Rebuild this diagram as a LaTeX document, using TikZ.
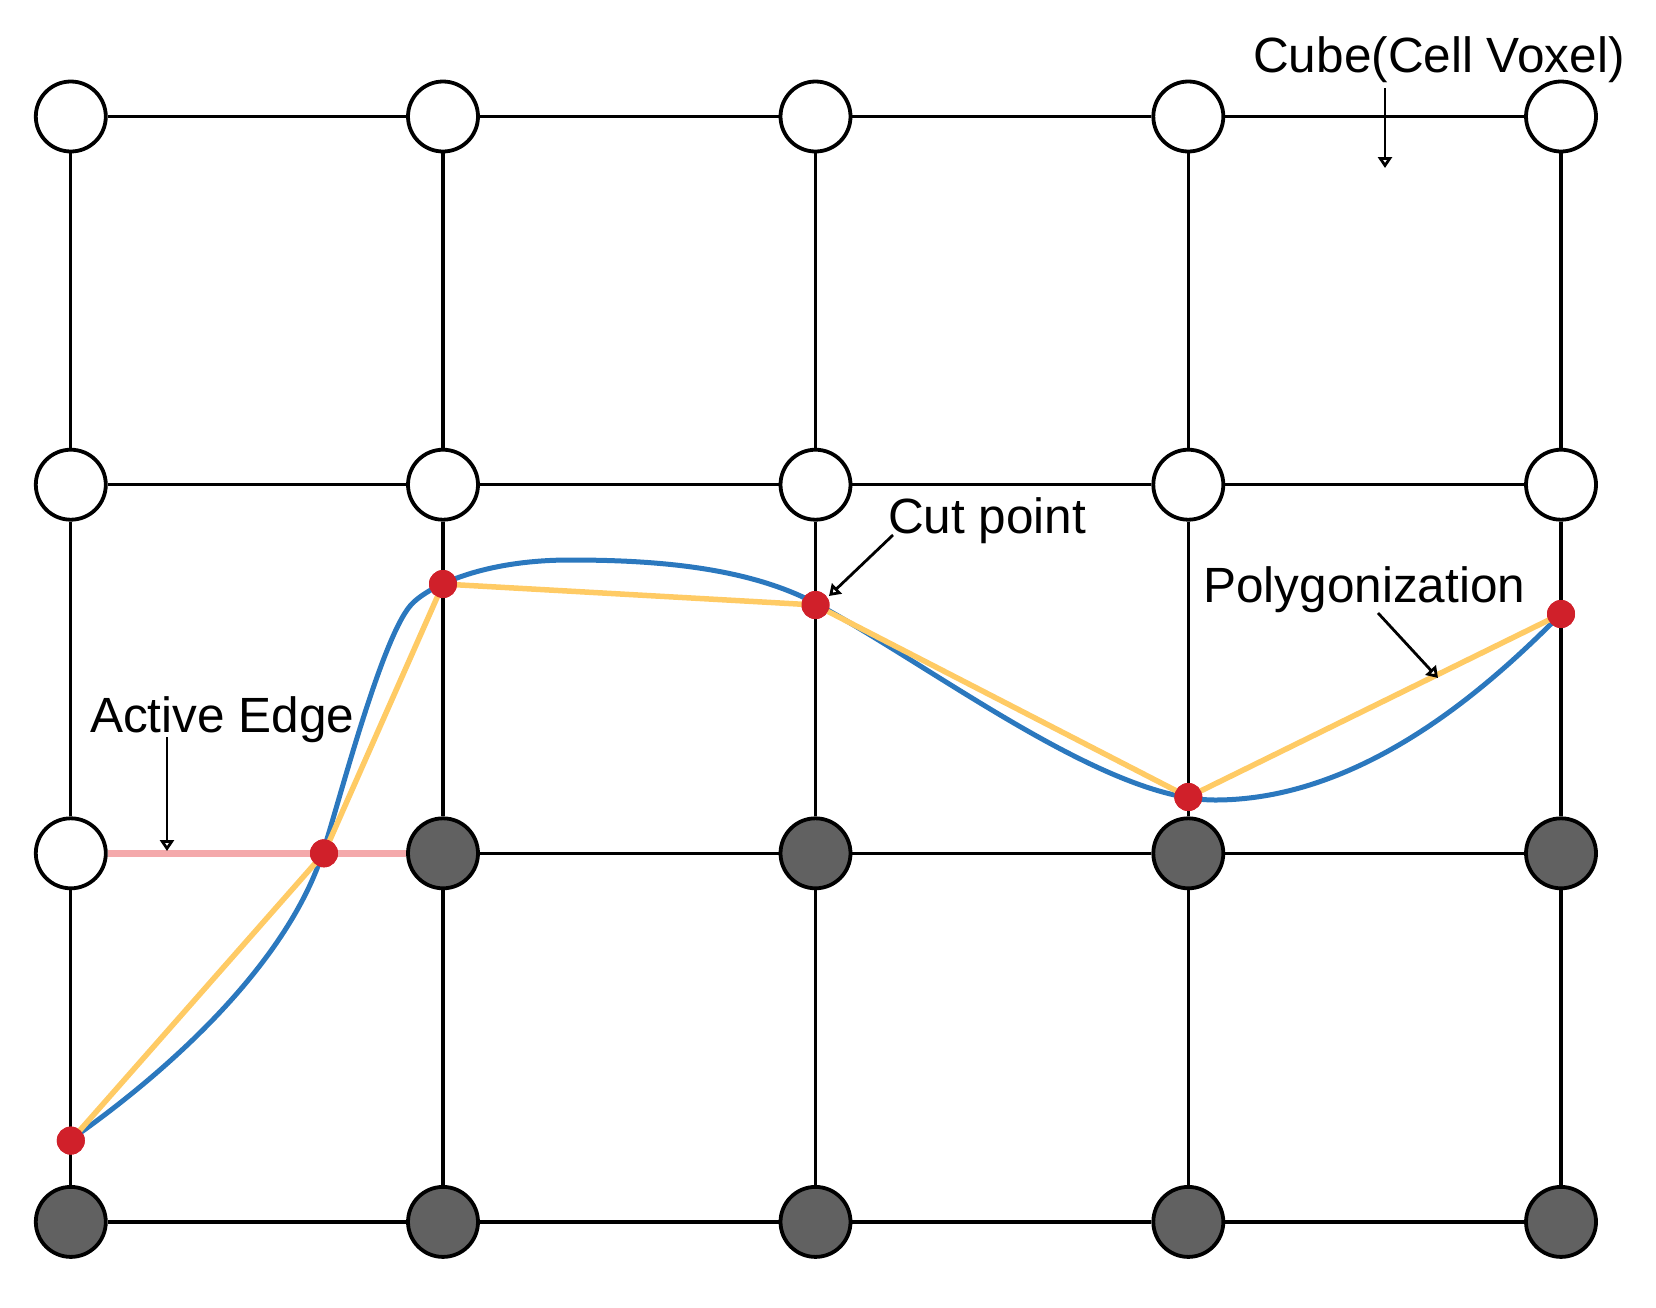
\documentclass[tikz,border=0pt]{standalone}
\usepackage{fontspec}
\setmainfont{Liberation Sans}
\usetikzlibrary{arrows.meta}
\definecolor{darkfill}{HTML}{616161}
\definecolor{cutred}{HTML}{D0202A}
\definecolor{curveblue}{HTML}{2B78BE}
\definecolor{polyyellow}{HTML}{FFCB65}
\definecolor{activepink}{HTML}{F4A9AB}
\begin{document}
\begin{tikzpicture}[x=1pt,y=-1pt,
  gridline/.style={line width=3.3pt, black},
  wnode/.style={circle, draw=black, line width=3.8pt, fill=white, minimum size=70pt, inner sep=0pt},
  dnode/.style={wnode, fill=darkfill},
  cutdot/.style={circle, fill=cutred, minimum size=28pt, inner sep=0pt},
  lbl/.style={anchor=base west, inner sep=0pt, font=\fontsize{49.5}{59}\selectfont},
  arr/.style={line width=2.8pt, -{Triangle[open, length=11pt, width=14pt, line width=2.8pt]}},
  bluecurve/.style={line width=5pt, curveblue, line join=round},
  polyline/.style={line width=5.5pt, polyyellow, line join=round},
  pinkedge/.style={line width=6.5pt, activepink}
]
\useasboundingbox (0,0) rectangle (1656,1307);
% grid nodes
\foreach \c/\x in {1/70.8,2/443,3/815.5,4/1188.3,5/1561}{
  \node[wnode] (v\c1) at (\x,116.5) {};
  \node[wnode] (v\c2) at (\x,484.7) {};
}
\node[wnode] (v13) at (70.8,853.3) {};
\foreach \c/\x in {2/443,3/815.5,4/1188.3,5/1561}{
  \node[dnode] (v\c3) at (\x,853.3) {};
}
\foreach \c/\x in {1/70.8,2/443,3/815.5,4/1188.3,5/1561}{
  \node[dnode] (v\c4) at (\x,1221.9) {};
}
% horizontal edges
\foreach \r in {1,2,4}{
  \foreach \a/\b in {1/2,2/3,3/4,4/5}{
    \draw[gridline] (v\a\r) -- (v\b\r);
  }
}
\foreach \a/\b in {2/3,3/4,4/5}{
  \draw[gridline] (v\a3) -- (v\b3);
}
% vertical edges
\foreach \c in {1,2,3,4,5}{
  \foreach \a/\b in {1/2,2/3,3/4}{
    \draw[gridline] (v\c\a) -- (v\c\b);
  }
}
% active edge
\draw[pinkedge] (v13) -- (v23);
% cut points
\node[cutdot] (p1) at (70.8,1140.6) {};
\node[cutdot] (p2) at (324,853.3) {};
\node[cutdot] (p3) at (443,584) {};
\node[cutdot] (p4) at (815.5,605) {};
\node[cutdot] (p5) at (1188.3,797) {};
\node[cutdot] (p6) at (1561,614) {};
% blue implicit curve
\draw[bluecurve] (71.5,1139)
  .. controls (170,1070) and (285,965) .. (322,855)
  .. controls (337,810) and (380,642) .. (410,606)
  .. controls (425,588) and (480,560) .. (570,560)
  .. controls (650,560) and (745,566) .. (815,603)
  .. controls (935,668) and (1105,800) .. (1215,800)
  .. controls (1370,800) and (1500,675) .. (1561,614);
% polygonization
\draw[polyline] (p1.center) -- (p2.center) -- (p3.center) -- (p4.center) -- (p5.center) -- (p6.center);
% redraw cut dots on top
\foreach \p in {p1,p2,p3,p4,p5,p6}{
  \fill[cutred] (\p) circle (14pt);
}
% labels
\node[lbl] (lcube) at (1253,72) {Cube(Cell Voxel)};
\node[lbl] (lactive) at (90,732) {Active Edge};
\node[lbl] (lcut) at (888,533) {Cut point};
\node[lbl] (lpoly) at (1203,602) {Polygonization};
% arrows
\coordinate (ca) at (1385,88);
\coordinate (cb) at (1385,168);
\coordinate (aa) at (167,737);
\coordinate (ab) at (167,851);
\coordinate (ta) at (893,535);
\coordinate (tb) at (829,596);
\coordinate (pa) at (1378,613);
\coordinate (pb) at (1438,678);
\draw[arr] (ca) -- (cb);
\draw[arr] (aa) -- (ab);
\draw[arr] (ta) -- (tb);
\draw[arr] (pa) -- (pb);
\end{tikzpicture}
\end{document}
